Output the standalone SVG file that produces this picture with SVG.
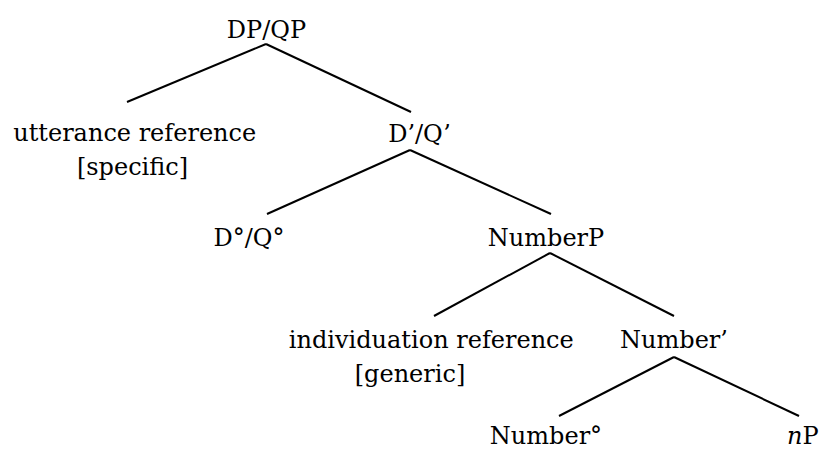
<svg xmlns="http://www.w3.org/2000/svg" width="821" height="451" viewBox="0 0 821 451">
<style>
  text { font-family: "DejaVu Serif", "Liberation Serif", serif; font-size: 24px; fill: #000; text-anchor: middle; }
  .edge { stroke: #000; stroke-width: 2; fill: none; stroke-linecap: butt; }
</style>
<rect width="821" height="451" fill="#fff"/>
<g id="connectors">
  <line class="edge" x1="266" y1="44" x2="127" y2="102"/>
  <line class="edge" x1="266" y1="44" x2="411" y2="112"/>
  <line class="edge" x1="410" y1="150" x2="267" y2="214"/>
  <line class="edge" x1="410" y1="150" x2="551" y2="214"/>
  <line class="edge" x1="550" y1="253" x2="434" y2="316"/>
  <line class="edge" x1="550" y1="253" x2="674" y2="316"/>
  <line class="edge" x1="674" y1="357" x2="559" y2="416"/>
  <line class="edge" x1="674" y1="357" x2="799" y2="416"/>
</g>
<g id="dpqp"><text x="266.5" y="38">DP/QP</text></g>
<g id="utterance"><text x="134.7" y="141">utterance reference</text><text x="132.5" y="174.5">[specific]</text></g>
<g id="dbarqbar"><text x="419.5" y="141.5">D’/Q’</text></g>
<g id="d0q0"><text x="249" y="245.5">D°/Q°</text></g>
<g id="numberp"><text x="546" y="245.5">NumberP</text></g>
<g id="individuation"><text x="431.3" y="348">individuation reference</text><text x="410" y="381.5">[generic]</text></g>
<g id="numberbar"><text x="674" y="348">Number’</text></g>
<g id="number0"><text x="546" y="444">Number°</text></g>
<g id="np"><text x="787" y="444" style="text-anchor:start"><tspan font-style="italic">n</tspan>P</text></g>
</svg>
